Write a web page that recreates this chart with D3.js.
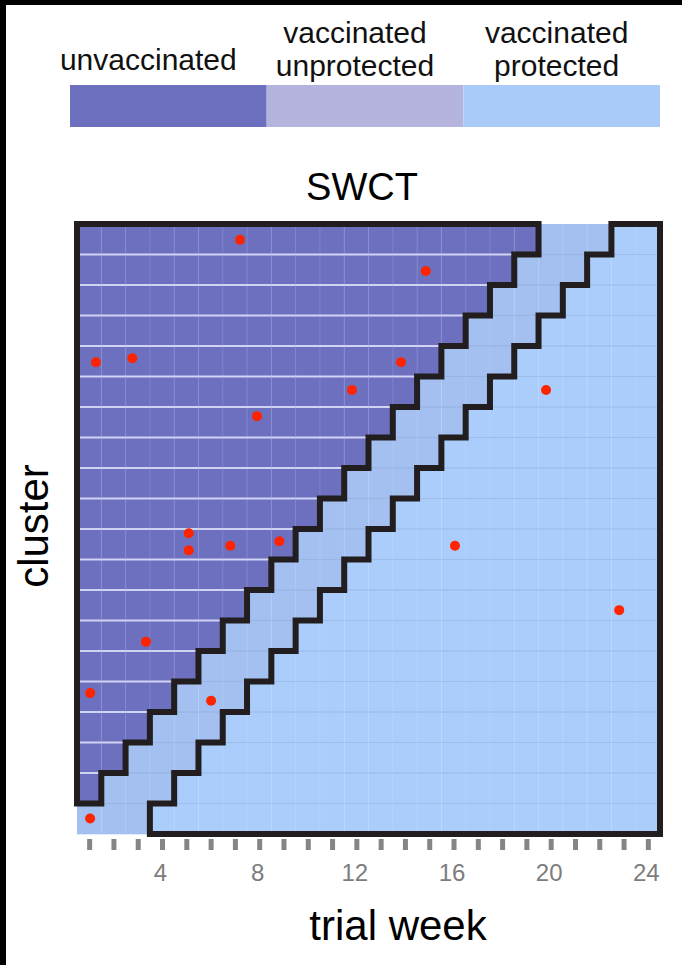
<!DOCTYPE html>
<html>
<head>
<meta charset="utf-8">
<script src="https://cdn.jsdelivr.net/npm/d3@7/dist/d3.min.js"></script>
<style>
  html, body { margin: 0; padding: 0; background: #fff; }
  svg { display: block; }
  text { font-family: "Liberation Sans", Arial, Helvetica, sans-serif; }
</style>
</head>
<body>
<script>
// Stepped-wedge cluster trial: one row per cluster, one column per trial week
const weeks = [1, 2, 3, 4, 5, 6, 7, 8, 9, 10, 11, 12, 13, 14, 15, 16, 17, 18, 19, 20, 21, 22, 23, 24];
const clusters = [1, 2, 3, 4, 5, 6, 7, 8, 9, 10, 11, 12, 13, 14, 15, 16, 17, 18, 19, 20];
// week in which each cluster is vaccinated, and the week protection begins
const vaccinationWeek = [1, 2, 3, 4, 5, 6, 7, 8, 9, 10, 11, 12, 13, 14, 15, 16, 17, 18, 19, 20];
const protectionWeek = [4, 5, 6, 7, 8, 9, 10, 11, 12, 13, 14, 15, 16, 17, 18, 19, 20, 21, 22, 23];
const tickLabels = [4, 8, 12, 16, 20, 24];

// observed cases (week of onset, cluster position)
const caseWeek = [7.21, 14.86, 1.28, 2.78, 13.84, 11.82, 19.81, 7.91, 5.10, 5.10, 6.81, 8.83, 16.06, 3.34, 22.82, 1.04, 6.02, 1.04];
const caseCluster = [19.98, 18.96, 15.97, 16.10, 15.97, 15.06, 15.06, 14.20, 10.36, 9.80, 9.95, 10.10, 9.95, 6.80, 7.84, 5.12, 4.87, 1.01];

const statusNames = ["unvaccinated", "vaccinated unprotected", "vaccinated protected"];
const legendLines = [["unvaccinated"], ["vaccinated", "unprotected"], ["vaccinated", "protected"]];
const legendColors = ["#6d70bf", "#b4b4de", "#aacbfa"];
const cellColors = ["#6d70bf", "#a3c0f0", "#abcdfb"];

const W = 682, H = 965;
const svg = d3.select("body").append("svg").attr("width", W).attr("height", H);

svg.append("rect").attr("width", W).attr("height", H).attr("fill", "#fff");
// dark frame along the left and top edges
svg.append("rect").attr("x", 0).attr("y", 0).attr("width", 6).attr("height", H).attr("fill", "#000");
svg.append("rect").attr("x", 0).attr("y", 0).attr("width", W).attr("height", 5).attr("fill", "#000");

// ---- legend ----
const legX = d3.scaleBand().domain(statusNames).range([70, 660]);
svg.append("g").selectAll("rect").data(statusNames).join("rect")
  .attr("x", d => legX(d)).attr("y", 85)
  .attr("width", legX.bandwidth()).attr("height", 42)
  .attr("fill", (d, i) => legendColors[i]);

// label centres sit a little left of their swatch centres
const legShift = [-20, -10, -5];
const legText = svg.append("g").selectAll("text").data(statusNames).join("text")
  .attr("text-anchor", "middle")
  .attr("font-size", 30)
  .attr("fill", "#111");
legText.each(function (d, i) {
  const lines = legendLines[i];
  const cx = legX(d) + legX.bandwidth() / 2 + legShift[i];
  const base = lines.length === 1 ? 70 : 43;
  d3.select(this).selectAll("tspan").data(lines).join("tspan")
    .attr("x", cx).attr("y", (l, j) => base + j * 33).text(l => l);
});

// ---- plot ----
const x = d3.scaleLinear().domain([0.5, 24.5]).range([77, 660]);
const y = d3.scaleLinear().domain([0.5, 20.5]).range([834, 224]);

svg.append("text").attr("x", 362).attr("y", 200)
  .attr("text-anchor", "middle").attr("font-size", 38).attr("fill", "#000").text("SWCT");

function status(ci, w) {
  if (w < vaccinationWeek[ci]) return 0;
  if (w < protectionWeek[ci]) return 1;
  return 2;
}

const cells = [];
clusters.forEach((c, ci) => weeks.forEach(w => cells.push({ c, ci, w, s: status(ci, w) })));

const plot = svg.append("g");
plot.selectAll("rect.cell").data(cells).join("rect")
  .attr("class", "cell")
  .attr("x", d => x(d.w - 0.5)).attr("y", d => y(d.c + 0.5))
  .attr("width", d => x(d.w + 0.5) - x(d.w - 0.5) + 0.3)
  .attr("height", d => y(d.c - 0.5) - y(d.c + 0.5) + 0.3)
  .attr("fill", d => cellColors[d.s]);

// faint week separators
plot.append("g").selectAll("line").data(weeks.slice(0, -1)).join("line")
  .attr("x1", w => x(w + 0.5)).attr("x2", w => x(w + 0.5))
  .attr("y1", y(20.5)).attr("y2", y(0.5))
  .attr("stroke", "#fff").attr("stroke-opacity", 0.13).attr("stroke-width", 1);

// row separators: bright inside the unvaccinated block, thin elsewhere
const rowSegs = [];
clusters.slice(0, -1).forEach((c, ci) => weeks.forEach(w => {
  const both = status(ci, w) === 0 && status(ci + 1, w) === 0;
  rowSegs.push({ c, w, bright: both });
}));
plot.append("g").selectAll("line").data(rowSegs).join("line")
  .attr("x1", d => x(d.w - 0.5)).attr("x2", d => x(d.w + 0.5))
  .attr("y1", d => y(d.c + 0.5)).attr("y2", d => y(d.c + 0.5))
  .attr("stroke", d => d.bright ? "#d6d9f7" : "#7d93bd")
  .attr("stroke-opacity", d => d.bright ? 0.95 : 0.35)
  .attr("stroke-width", d => d.bright ? 2 : 1);

// outline of the unvaccinated block
const unvPts = [[0.5, 20.5]];
for (let ci = clusters.length - 1; ci >= 0; ci--) {
  const edge = vaccinationWeek[ci] - 0.5;
  if (edge <= 0.5) break;
  unvPts.push([edge, clusters[ci] + 0.5]);
  unvPts.push([edge, clusters[ci] - 0.5]);
}
unvPts.push([0.5, unvPts[unvPts.length - 1][1]]);

// outline of the protected block
const protPts = [[24.5, 20.5], [24.5, 0.5]];
clusters.forEach((c, ci) => {
  const edge = protectionWeek[ci] - 0.5;
  protPts.push([edge, c - 0.5]);
  protPts.push([edge, c + 0.5]);
});

const outline = d3.line().x(p => x(p[0])).y(p => y(p[1])).curve(d3.curveLinearClosed);
[unvPts, protPts].forEach(pts => {
  plot.append("path").attr("d", outline(pts))
    .attr("fill", "none").attr("stroke", "#221e1f")
    .attr("stroke-width", 6).attr("stroke-linejoin", "miter");
});

// cases
plot.append("g").selectAll("circle").data(caseWeek).join("circle")
  .attr("cx", (d, i) => x(caseWeek[i])).attr("cy", (d, i) => y(caseCluster[i]))
  .attr("r", 5).attr("fill", "#ff2400");

// ---- x axis ----
const axis = d3.axisBottom(x).tickValues(weeks).tickSize(11)
  .tickFormat(w => tickLabels.includes(w) ? w : "");
const ax = svg.append("g").attr("transform", "translate(0,839)").call(axis);
ax.select(".domain").remove();
ax.selectAll(".tick line").attr("stroke", "#858585").attr("stroke-width", 5);
ax.selectAll(".tick text").attr("font-size", 24).attr("fill", "#7d7d7d")
  .attr("dy", 0).attr("y", 42).attr("dx", -2)
  .attr("font-family", "Liberation Sans, Arial, sans-serif");

svg.append("text").attr("x", 398).attr("y", 940)
  .attr("text-anchor", "middle").attr("font-size", 42).attr("fill", "#000").text("trial week");

svg.append("text")
  .attr("transform", `translate(48,526) rotate(-90)`)
  .attr("text-anchor", "middle").attr("font-size", 42).attr("fill", "#000").text("cluster");
</script>
</body>
</html>
